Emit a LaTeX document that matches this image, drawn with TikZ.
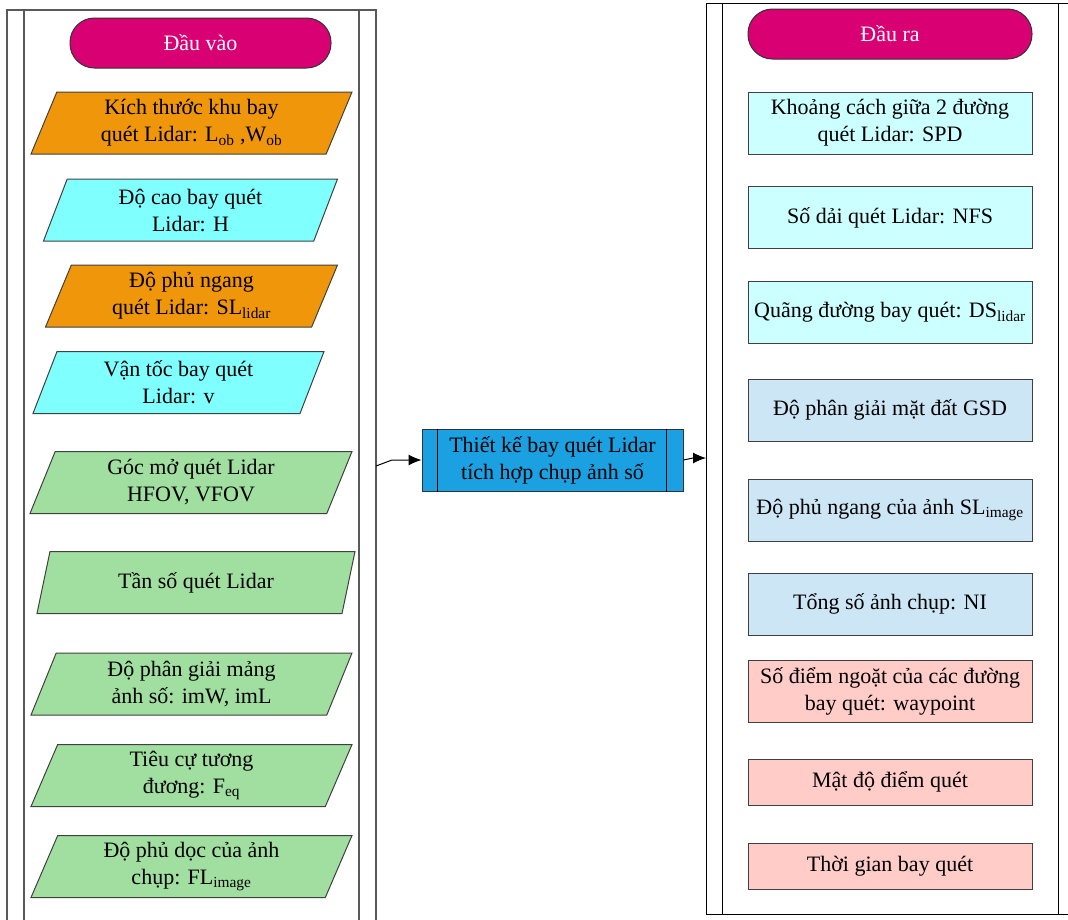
\documentclass[tikz,border=0pt]{standalone}
\usepackage{fontspec}
\setmainfont{Liberation Serif}
\usetikzlibrary{shapes.geometric,arrows.meta}
\definecolor{termmag}{HTML}{D80073}
\definecolor{inorange}{HTML}{F0960A}
\definecolor{incyan}{HTML}{80FFFF}
\definecolor{ingreen}{HTML}{A0DFA0}
\definecolor{outcyan}{HTML}{CCFFFF}
\definecolor{outblue}{HTML}{CDE6F5}
\definecolor{outpink}{HTML}{FFCCC8}
\definecolor{procblue}{HTML}{1BA1E2}
\begin{document}
\begin{tikzpicture}[x=1pt,y=-1pt,
	every node/.style={font=\fontsize{22}{27}\selectfont},
	term/.style={draw=black!80, line width=1pt, fill=termmag, text=white, rounded corners=24.5pt, minimum height=50pt},
	inbox/.style={trapezium, trapezium left angle=64, trapezium right angle=116, trapezium stretches body, draw=black!75, line width=1pt, minimum height=62pt, align=center, inner xsep=2pt, inner ysep=3pt},
	outbox/.style={rectangle, draw=black!75, line width=1pt, minimum width=284pt, minimum height=62pt, align=center, inner sep=2pt},
	proc/.style={rectangle, draw=black!80, line width=1pt, fill=procblue, minimum width=261pt, minimum height=62pt, align=center, inner sep=2pt},
	arr/.style={-{Latex[length=13pt,width=11pt]}, line width=1pt}]
	\useasboundingbox (0,0) rectangle (1068,919);
	\draw[black!65, line width=1.5pt] (7,10) rectangle (376,930);
	\draw[black!65, line width=1.5pt] (24,10) -- (24,930);
	\draw[black!65, line width=1.5pt] (359,10) -- (359,930);
	\draw[black, line width=1pt] (706,3) rectangle (1080,914);
	\draw[black, line width=1pt] (722,3) -- (722,914);
	\draw[black, line width=1pt] (1058,3) -- (1058,914);
	\node[term, minimum width=261pt] (invao) at (200.5,43) {Đầu vào};
	\node[term, minimum width=284pt] (outra) at (890,34) {Đầu ra};
	\node[inbox, fill=inorange, minimum width=321pt] (kichthuoc) at (191.5,123) {Kích thước khu bay\\quét Lidar: L\textsubscript{ob} ,W\textsubscript{ob}};
	\node[inbox, fill=incyan, minimum width=294pt] (docao) at (190.5,210) {Độ cao bay quét\\Lidar: H};
	\node[inbox, fill=inorange, minimum width=292pt] (phungang) at (191.5,296) {Độ phủ ngang\\quét Lidar: SL\textsubscript{lidar}};
	\node[inbox, fill=incyan, minimum width=291pt] (vantoc) at (178.5,382.5) {Vận tốc bay quét\\Lidar: v};
	\node[inbox, fill=ingreen, minimum width=322pt] (gocmo) at (191,482.5) {Góc mở quét Lidar\\HFOV, VFOV};
	\node[inbox, fill=ingreen, minimum width=318pt] (tanso) at (196,582.5) {Tần số quét Lidar};
	\node[inbox, fill=ingreen, minimum width=321pt] (mang) at (191.5,684) {Độ phân giải mảng\\ảnh số: imW, imL};
	\node[inbox, fill=ingreen, minimum width=321pt] (tieucu) at (191.5,775.5) {Tiêu cự tương\\đương: F\textsubscript{eq}};
	\node[inbox, fill=ingreen, minimum width=321pt] (phudoc) at (191.5,866.5) {Độ phủ dọc của ảnh\\chụp: FL\textsubscript{image}};
	\node[proc] (design) at (552.5,460) {Thiết kế bay quét Lidar\\tích hợp chụp ảnh số};
	\draw[line width=1pt] ([xshift=16pt]design.north west) -- ([xshift=16pt]design.south west);
	\draw[line width=1pt] ([xshift=-17pt]design.north east) -- ([xshift=-17pt]design.south east);
	\node[outbox, fill=outcyan] (spd) at (890,123) {Khoảng cách giữa 2 đường\\quét Lidar: SPD};
	\node[outbox, fill=outcyan] (nfs) at (890,217.5) {Số dải quét Lidar: NFS};
	\node[outbox, fill=outcyan] (dslidar) at (890,312.5) {Quãng đường bay quét: DS\textsubscript{lidar}};
	\node[outbox, fill=outblue] (gsd) at (890,410) {Độ phân giải mặt đất GSD};
	\node[outbox, fill=outblue] (slimage) at (890,510) {Độ phủ ngang của ảnh SL\textsubscript{image}};
	\node[outbox, fill=outblue] (ni) at (890,604) {Tổng số ảnh chụp: NI};
	\node[outbox, fill=outpink] (waypoint) at (890,691) {Số điểm ngoặt của các đường\\bay quét: waypoint};
	\node[outbox, fill=outpink, minimum height=46pt] (matdo) at (890,782) {Mật độ điểm quét};
	\node[outbox, fill=outpink, minimum height=46pt] (thoigian) at (890,866) {Thời gian bay quét};
	\coordinate (inedge) at (376,466);
	\coordinate (outedge) at (706,458);
	\draw[arr] (inedge) -- (392,460) -- (design.west);
	\draw[arr] (design.east) -- (693,458) -- (outedge);
\end{tikzpicture}
\end{document}
